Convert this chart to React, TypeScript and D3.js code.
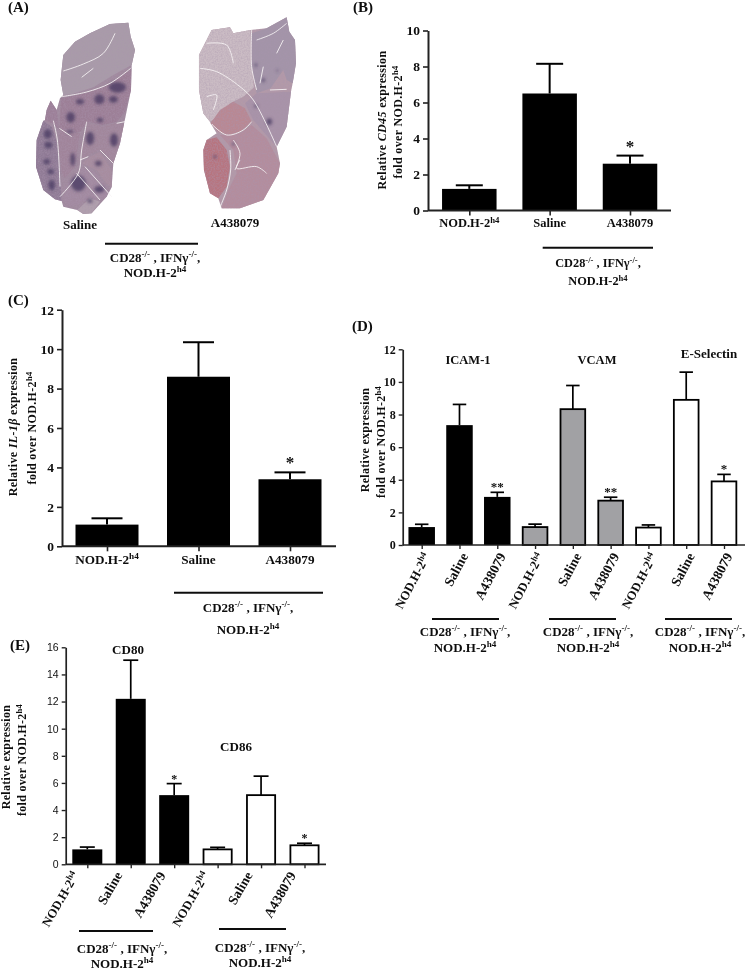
import React, { useEffect, useRef } from 'react'
import * as d3 from 'd3'

// Text runs: [text, style] where style is '', 'i' (italic) or 's' (superscript)
type Run = [string, string?]

const NOD: Run[] = [['NOD.H-2'], ['h4', 's']]
const CD28: Run[] = [['CD28'], ['-/-', 's'], [' , IFNγ'], ['-/-', 's'], [',']]
const barLabels: Run[][] = [NOD, [['Saline']], [['A438079']]]

// Panel B
const cd45Values = [1.2, 6.5, 2.6]
const cd45Tops = [1.4, 8.15, 3.05]
const cd45Ticks = [0, 2, 4, 6, 8, 10]
const cd45Stars = ['', '', '*']

// Panel C
const il1Values = [1.1, 8.6, 3.4]
const il1Tops = [1.42, 10.35, 3.75]
const il1Ticks = [0, 2, 4, 6, 8, 10, 12]
const il1Stars = ['', '', '*']

// Panel D
const adhesionValues = [1.1, 7.35, 2.95, 1.1, 8.33, 2.72, 1.07, 8.9, 3.9]
const adhesionTops = [1.27, 8.62, 3.23, 1.28, 9.78, 2.93, 1.23, 10.6, 4.33]
const adhesionFills = ['#000', '#000', '#000', '#a1a1a4', '#a1a1a4', '#a1a1a4', '#fff', '#fff', '#fff']
const adhesionStars = ['', '', '**', '', '', '**', '', '', '*']
const adhesionTicks = [0, 2, 4, 6, 8, 10, 12]

// Panel E
const costimValues = [1.1, 12.2, 5.1, 1.1, 5.1, 1.4]
const costimTops = [1.27, 15.05, 5.95, 1.25, 6.5, 1.55]
const costimFills = ['#000', '#000', '#000', '#fff', '#fff', '#fff']
const costimStars = ['', '', '*', '', '', '*']
const costimTicks = [0, 2, 4, 6, 8, 10, 12, 14, 16]

const salineOutline = '185,210 190,165 225,125 270,100 330,72 385,68 392,110 405,150 395,195 393,270 372,372 360,430 340,490 335,562 320,590 275,640 250,642 232,630 190,620 185,603 165,598 130,570 108,500 110,420 130,362 135,360 140,330 152,302 170,330 180,295 190,285 182,240'
const salineLobes: [string, string][] = [
  ['#a99ba9', '185,210 190,165 225,125 270,100 330,72 385,68 392,110 405,150 395,195 340,225 280,262 215,283 190,285 182,240'],
  ['#9c7f96', '183,295 260,278 330,252 394,205 393,270 375,335 350,365 310,375 262,365 240,395 200,405 178,390'],
  ['#9c8098', '152,302 170,330 178,390 160,372 135,360 140,330'],
  ['#8f7a95', '130,362 155,380 172,430 180,500 185,603 165,598 130,570 108,500 110,420'],
  ['#a0849a', '180,395 240,400 232,450 225,500 195,535 185,520 175,430'],
  ['#a1879b', '262,370 310,378 345,370 372,372 360,430 340,490 300,450 265,465 245,480 240,450'],
  ['#a78d9f', '245,490 270,470 300,455 335,510 335,562 320,552 290,510'],
  ['#a28aa0', '190,600 195,560 225,520 255,500 290,520 320,560 320,590 300,600 270,590 235,615 200,620'],
  ['#b0a0ad', '232,630 270,595 300,605 275,640 250,642'],
]
const salineSpots: [number, number, number, number][] = [
  [352, 262, 26, 16], [298, 298, 15, 15], [340, 298, 13, 10], [212, 352, 13, 16], [240, 305, 12, 8], [300, 360, 9, 7],
  [270, 415, 12, 20], [342, 420, 12, 20], [143, 402, 12, 14], [145, 435, 12, 10], [218, 478, 7, 20], [140, 485, 10, 8],
  [152, 515, 10, 8], [155, 555, 10, 16], [235, 550, 22, 24], [298, 568, 15, 10], [295, 490, 10, 8], [270, 603, 8, 6], [210, 395, 10, 4],
]
const salineCracks = [
  '190,213 250,192 310,160 345,100', '245,232 280,205', '185,290 260,276 330,250 392,205', '160,362 172,420 180,560', '178,385 215,410',
  '260,365 245,450 235,520 180,590', '240,480 265,470', '340,490 300,450', '255,500 335,590', '230,520 300,600', '350,370 375,365',
]
const treatedOutline = '597,165 635,90 690,82 700,100 752,90 800,85 860,52 868,95 885,120 888,190 878,250 873,275 860,380 830,440 840,490 835,520 790,600 720,625 665,625 655,595 630,580 612,510 610,450 620,420 650,400 632,370 630,365 610,340 597,270'
const treatedLobes: [string, string][] = [
  ['#cbbcc4', '597,165 635,90 690,82 700,100 752,90 752,180 762,262 730,290 690,310 660,345 630,365 610,340 597,270'],
  ['#a394a8', '755,100 800,85 860,52 868,95 885,120 888,190 878,250 860,240 850,210 812,265 770,280 755,200'],
  ['#a893a8', '735,310 770,280 860,275 873,275 860,380 830,440 790,395 760,360'],
  ['#b98893', '632,370 660,330 700,305 735,325 755,365 720,395 680,405 655,395'],
  ['#b48d9d', '660,405 720,400 755,375 800,415 840,490 835,520 790,600 720,625 665,625 685,570 710,520 700,450'],
  ['#b7757f', '620,420 650,412 680,450 690,500 680,560 655,595 630,580 612,510 610,450'],
]
const treatedSpots: [number, number, number, number][] = [
  [768, 195, 4, 5], [790, 240, 5, 6], [768, 318, 5, 5], [808, 365, 8, 10], [832, 212, 3, 3], [645, 470, 5, 5], [700, 432, 4, 5],
]
const treatedCracks = [
  '620,130 680,135 700,190', '600,205 650,215 720,260 760,300 830,440', '620,290 650,285 640,330', '755,90 755,200 770,270',
  '770,120 820,100 860,70', '810,270 860,268', '790,200 780,250', '720,480 710,505 770,500 800,520', '700,420 720,460 705,510', '850,120 830,160',
  '690,450 692,510 680,570 660,622', '635,372 680,405 730,390 755,365',
]

const serif = '"Liberation Serif", serif'

// appends one line of bold text with italic and superscript runs
function richText(parent: any, runs: Run[], x: number, y: number, size: number, anchor = 'middle', transform?: string) {
  const text = parent.append('text')
    .attr('x', x).attr('y', y)
    .attr('font-family', serif).attr('font-weight', 700).attr('font-size', size)
    .attr('text-anchor', anchor).attr('fill', '#111')
  if (transform) text.attr('transform', transform)
  let raised = false
  runs.forEach(([str, style]) => {
    const sup = style === 's'
    const span = text.append('tspan').text(str)
    if (sup !== raised) span.attr('dy', (sup ? -0.36 : 0.36) * size)
    if (sup) span.attr('font-size', size * 0.7)
    if (style === 'i') span.attr('font-style', 'italic')
    raised = sup
  })
  return text
}

function drawBars(root: any, p: any) {
  const g = root.append('g')
  const y = d3.scaleLinear().domain([0, p.ticks[p.ticks.length - 1]]).range([p.y0, p.yTop])
  const x = d3.scalePoint<number>().domain(p.values.map((_: number, i: number) => i)).range(p.xRange)
  const fills = p.fills || p.values.map(() => '#000')

  // Error bars first, the bar covers the lower half
  p.values.forEach((v: number, i: number) => {
    const cx = x(i) as number
    g.append('line').attr('x1', cx).attr('x2', cx).attr('y1', y(v)).attr('y2', y(p.tops[i]))
      .attr('stroke', '#000').attr('stroke-width', p.errW)
    g.append('line').attr('x1', cx - p.capW / 2).attr('x2', cx + p.capW / 2).attr('y1', y(p.tops[i])).attr('y2', y(p.tops[i]))
      .attr('stroke', '#000').attr('stroke-width', p.errW)
    const outlined = fills[i] !== '#000'
    const inset = outlined ? p.outline / 2 : 0
    g.append('rect')
      .attr('x', cx - p.barW / 2 + inset).attr('width', p.barW - inset * 2)
      .attr('y', y(v)).attr('height', y(0) - y(v))
      .attr('fill', fills[i]).attr('stroke', '#000').attr('stroke-width', outlined ? p.outline : 0)
    if (p.stars[i]) {
      g.append('text').attr('x', cx).attr('y', y(p.tops[i]) + p.starDy)
        .attr('text-anchor', 'middle').attr('font-family', serif).attr('font-weight', 700)
        .attr('font-size', p.starSize).attr('fill', '#111').text(p.stars[i])
    }
  })

  // Axes
  const yAxis = g.append('g').attr('transform', `translate(${p.axisX},0)`)
    .call(d3.axisLeft(y).tickValues(p.ticks).tickFormat(d3.format('d')).tickSize(p.tickLen).tickSizeOuter(0).tickPadding(3))
  yAxis.selectAll('text').attr('font-family', p.tickFont || serif).attr('font-weight', p.tickWeight || 700)
    .attr('font-size', p.tickSize).attr('fill', '#111')
  const xAxis = g.append('g').attr('transform', `translate(0,${p.y0})`)
    .call(d3.axisBottom(x).tickFormat(() => '').tickSize(p.tickLen))
  xAxis.select('.domain').remove()
  g.append('line').attr('x1', p.axisX).attr('x2', p.axisEnd).attr('y1', p.y0).attr('y2', p.y0)
    .attr('stroke', '#222').attr('stroke-width', p.axisW)
  g.selectAll('.tick line').attr('stroke', '#222').attr('stroke-width', p.axisW * 0.8)
  yAxis.select('.domain').attr('stroke', '#222').attr('stroke-width', p.axisW)

  // Bar labels
  p.values.forEach((_: number, i: number) => {
    const runs = barLabels[i % 3]
    const cx = x(i) as number
    if (p.labelAngle) {
      const lx = cx + p.labelDx
      // the NOD label runs a little smaller than the other two in the figure
      const size = i % 3 === 0 ? p.labelSize * 0.93 : p.labelSize
      richText(g, runs, lx, p.labelY, size, 'end', `rotate(${p.labelAngle},${lx},${p.labelY})`)
    } else {
      richText(g, runs, cx, p.labelY, p.labelSize)
    }
  })

  // Rotated axis titles
  p.titles.forEach(([runs, tx, ty]: [Run[], number, number]) => {
    richText(g, runs, tx, ty, p.titleSize, 'middle', `rotate(-90,${tx},${ty})`)
      .attr('letter-spacing', p.titleSpacing || 0)
  })
}

function genotype(root: any, x1: number, x2: number, ly: number, cx: number, b1: number, b2: number, size: number) {
  root.append('line').attr('x1', x1).attr('x2', x2).attr('y1', ly).attr('y2', ly).attr('stroke', '#111').attr('stroke-width', 2)
  richText(root, CD28, cx, b1, size)
  richText(root, NOD, cx, b2, size)
}

function drawTissue(root: any) {
  const g = root.append('g').attr('transform', 'scale(0.3333)')
  const lobesG = g.append('g').attr('filter', 'url(#tissueTexture)')
  const spotsG = g.append('g').attr('filter', 'url(#spotBlur)')
  const cracksG = g.append('g').attr('filter', 'url(#crackBlur)')
  const line = d3.line().curve(d3.curveLinearClosed)
  const open = d3.line().curve(d3.curveCatmullRom.alpha(0.5))
  const pts = (s: string) => s.split(' ').map(q => q.split(',').map(Number) as [number, number])
  const draw = (outline: string, base: string, lobes: [string, string][], spots: number[][], cracks: string[]) => {
    lobesG.append('path').attr('d', line(pts(outline))).attr('fill', base)
    lobes.forEach(([fill, d]) => lobesG.append('path').attr('d', line(pts(d))).attr('fill', fill))
    spots.forEach(([cx, cy, rx, ry]) => spotsG.append('ellipse').attr('cx', cx).attr('cy', cy).attr('rx', rx).attr('ry', ry)
      .attr('fill', '#4a3c63').attr('opacity', 0.8))
    cracks.forEach(d => cracksG.append('path').attr('d', open(pts(d))).attr('fill', 'none').attr('stroke', '#f7f3f4').attr('stroke-width', 2.6))
  }
  draw(salineOutline, '#a08a9e', salineLobes, salineSpots, salineCracks)
  draw(treatedOutline, '#b39aa8', treatedLobes, treatedSpots, treatedCracks)
}

export default function App() {
  const svgRef = useRef<SVGSVGElement>(null)

  useEffect(() => {
    const svg = d3.select(svgRef.current)
    svg.selectAll('*').remove()

    const defs = svg.append('defs')
    defs.append('filter').attr('id', 'spotBlur').attr('x', '-10%').attr('y', '-10%').attr('width', '120%').attr('height', '120%')
      .append('feGaussianBlur').attr('stdDeviation', 5)
    defs.append('filter').attr('id', 'crackBlur').append('feGaussianBlur').attr('stdDeviation', 1)
    defs.append('filter').attr('id', 'soft').append('feGaussianBlur').attr('stdDeviation', 0.3)
    // mottled look of the stained section
    const tex = defs.append('filter').attr('id', 'tissueTexture')
    tex.append('feGaussianBlur').attr('in', 'SourceGraphic').attr('stdDeviation', 2).attr('result', 'base')
    tex.append('feTurbulence').attr('type', 'fractalNoise').attr('baseFrequency', 0.22).attr('numOctaves', 2).attr('seed', 4).attr('result', 'noise')
    tex.append('feColorMatrix').attr('in', 'noise').attr('type', 'matrix')
      .attr('values', '0 0 0 0 0.4  0 0 0 0 0.3  0 0 0 0 0.42  0.9 0 0 0 -0.3').attr('result', 'mottle')
    tex.append('feComposite').attr('in', 'mottle').attr('in2', 'base').attr('operator', 'in').attr('result', 'clipped')
    const merge = tex.append('feMerge')
    merge.append('feMergeNode').attr('in', 'base')
    merge.append('feMergeNode').attr('in', 'clipped')

    const root = svg.append('g').attr('filter', 'url(#soft)')

    // Panel letters
    const letters: [string, number, number][] = [['(A)', 8, 12], ['(B)', 353, 12], ['(C)', 8, 305], ['(D)', 352, 331], ['(E)', 10, 650]]
    letters.forEach(([t, x, y]) => richText(root, [[t]], x, y, 15, 'start'))

    // A
    drawTissue(root)
    richText(root, [['Saline']], 80, 229, 13)
    richText(root, [['A438079']], 235, 227, 13)
    genotype(root, 105, 198, 243.7, 155, 262, 277, 13)

    // B
    drawBars(root, {
      values: cd45Values, tops: cd45Tops, ticks: cd45Ticks, stars: cd45Stars,
      y0: 210.5, yTop: 30.5, xRange: [469.3, 630], axisX: 428, axisEnd: 671,
      barW: 54.5, capW: 27, errW: 2, outline: 2, axisW: 2, tickLen: 5, tickSize: 13.5,
      starDy: -4, starSize: 17, labelY: 227, labelSize: 12.5, titleSize: 12, titleSpacing: 0.35,
      titles: [
        [[['Relative '], ['CD45', 'i'], [' expression']], 385.5, 120],
        [[['fold over NOD.H-2'], ['h4', 's']], 402, 122],
      ],
    })
    genotype(root, 542.7, 653, 247.7, 598, 267, 285, 12.3)

    // C
    drawBars(root, {
      values: il1Values, tops: il1Tops, ticks: il1Ticks, stars: il1Stars,
      y0: 546.3, yTop: 309.7, xRange: [107, 290], axisX: 62, axisEnd: 336,
      barW: 63, capW: 31, errW: 2, outline: 2, axisW: 2, tickLen: 5, tickSize: 13.5,
      starDy: -4, starSize: 17, labelY: 564, labelSize: 13.2, titleSize: 12, titleSpacing: 0.35,
      titles: [
        [[['Relative '], ['IL-1', 'i'], ['β', 'i'], [' expression']], 17, 427],
        [[['fold over NOD.H-2'], ['h4', 's']], 36, 428],
      ],
    })
    genotype(root, 174, 323, 592.7, 248, 612, 634, 13)

    // D
    drawBars(root, {
      values: adhesionValues, tops: adhesionTops, fills: adhesionFills, ticks: adhesionTicks, stars: adhesionStars,
      y0: 545, yTop: 349.3, xRange: [421.7, 724], axisX: 402.7, axisEnd: 745,
      barW: 26.5, capW: 13.5, errW: 1.7, outline: 1.8, axisW: 1.7, tickLen: 4, tickSize: 12,
      starDy: -1, starSize: 13, labelY: 556, labelDx: 9, labelSize: 13.6, labelAngle: -62, titleSize: 12, titleSpacing: 0.3,
      titles: [
        [[['Relative expression']], 369, 440],
        [[['fold over NOD.H-2'], ['h4', 's']], 385, 442],
      ],
    })
    richText(root, [['ICAM-1']], 468, 364, 12.5)
    richText(root, [['VCAM']], 597, 364, 12.5)
    richText(root, [['E-Selectin']], 709, 358, 13)
    genotype(root, 432, 499, 619, 465, 636, 652, 13)
    genotype(root, 549, 616, 619, 588, 636, 652, 13)
    genotype(root, 665, 732, 619, 700, 636, 652, 13)

    // E
    drawBars(root, {
      values: costimValues, tops: costimTops, fills: costimFills, ticks: costimTicks, stars: costimStars,
      y0: 864.3, yTop: 647.3, xRange: [87.3, 304.5], axisX: 65.7, axisEnd: 326,
      barW: 30, capW: 15, errW: 1.7, outline: 1.8, axisW: 1.7, tickLen: 4, tickSize: 10.5,
      tickFont: '"Liberation Sans", sans-serif', tickWeight: 400,
      starDy: -1, starSize: 12, labelY: 875, labelDx: -8, labelSize: 13.6, labelAngle: -60, titleSize: 12, titleSpacing: 0.3,
      titles: [
        [[['Relative expression']], 9.5, 757],
        [[['fold over NOD.H-2'], ['h4', 's']], 26, 760],
      ],
    })
    richText(root, [['CD80']], 128, 654, 13)
    richText(root, [['CD86']], 236, 751, 13)
    genotype(root, 79, 153, 931, 122, 953, 968, 13)
    genotype(root, 219, 286, 929, 260, 952, 967, 13)
  }, [])

  return <svg ref={svgRef} width={745} height={970} style={{ position: 'absolute', left: 0, top: 0, background: '#fff' }} />
}
